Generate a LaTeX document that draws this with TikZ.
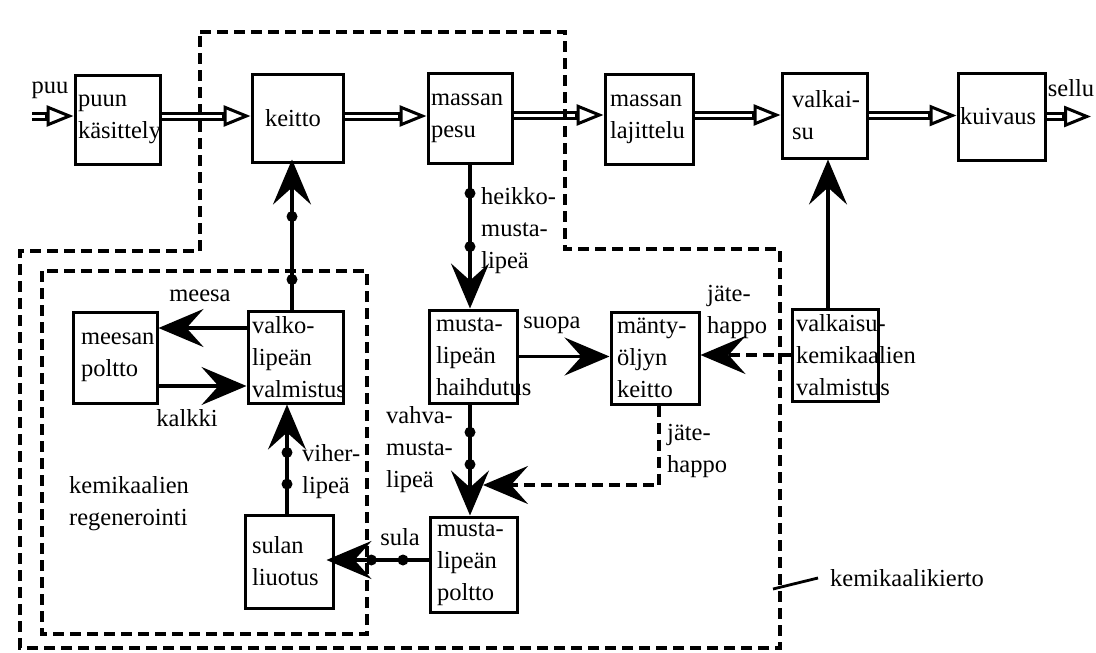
\documentclass[tikz,border=0pt]{standalone}
\usepackage{fontspec}
\setmainfont{Liberation Serif}
\usetikzlibrary{arrows.meta}
\newcommand\mhy[1]{\mbox{#1-}}
\begin{document}
\begin{tikzpicture}[x=1pt,y=-1pt,
  every node/.style={font=\fontsize{24.5}{32}\selectfont},
  box/.style={draw, line width=3pt, inner xsep=4pt, inner ysep=0pt, align=left, anchor=center},
  lbl/.style={inner sep=0pt, align=left},
  flow/.style={line width=3.4pt, -{Stealth[length=45pt,width=38pt,inset=17pt]}},
  dflow/.style={line width=3.4pt, dash pattern=on 11pt off 6pt, -{Stealth[length=45pt,width=38pt,inset=17pt]}},
  dot/.style={circle, fill, inner sep=0pt, minimum size=11pt},
  pulp/.style={line width=9pt, -{Triangle[open,length=27pt,width=21pt,line width=3pt]},
    postaction={draw=white, line width=3pt, -, shorten >=29pt}},
  region/.style={line width=3.4pt, dash pattern=on 11pt off 6pt}
]
\useasboundingbox (0,0) rectangle (1096,653);

% boxes
\node[box, minimum width=85pt, minimum height=89pt, text width=79pt, inner xsep=3pt] (puun) at (117.5,119.5) {puun\\käsittely};
\node[box, minimum width=91pt, minimum height=88pt, text width=65pt, inner xsep=13pt] (keitto) at (297.5,118) {keitto};
\node[box, minimum width=84pt, minimum height=90pt, text width=78pt, inner xsep=3pt] (pesu) at (470,118) {massan\\pesu};
\node[box, minimum width=88pt, minimum height=90pt, text width=78pt, inner xsep=5pt] (lajittelu) at (649,119) {massan\\lajittelu};
\node[box, minimum width=85pt, minimum height=85pt, text width=65pt, inner xsep=10pt] (valkaisu) at (824.5,115.5) {\mhy{valkai}\\su};
\node[box, minimum width=87pt, minimum height=87pt, text width=83pt, inner xsep=2pt] (kuivaus) at (1001.5,116.5) {kuivaus};
\node[box, minimum width=84pt, minimum height=91pt, text width=68pt, inner xsep=8pt] (meesan) at (115,357.5) {meesan\\poltto};
\node[box, minimum width=95pt, minimum height=92pt, text width=87pt] (valko) at (295.5,357) {\mhy{valko}\\lipeän\\valmistus};
\node[box, minimum width=88pt, minimum height=93pt, text width=74pt, inner xsep=7pt] (haihd) at (473,356.5) {\mhy{musta}\\lipeän\\haihdutus};
\node[box, minimum width=88pt, minimum height=92pt, text width=76pt, inner xsep=6pt] (manty) at (655,358) {\mhy{mänty}\\öljyn\\keitto};
\node[box, minimum width=86pt, minimum height=92pt, text width=78pt] (vkem) at (835,355) {\mhy{valkaisu}\\kemikaalien\\valmistus};
\node[box, minimum width=88pt, minimum height=93pt, text width=74pt, inner xsep=7pt] (sulan) at (289,561.5) {sulan\\liuotus};
\node[box, minimum width=87pt, minimum height=95pt, text width=73pt, inner xsep=7pt] (poltto) at (473.5,564.5) {\mhy{musta}\\lipeän\\poltto};

% labels
\node[lbl] (puu) at (50,90) {puu};
\node[lbl] (sellu) at (1071,88) {sellu};
\node[lbl, anchor=west] (heikko) at (481,231) {\mhy{heikko}\\\mhy{musta}\\lipeä};
\node[lbl] (meesa) at (200,296) {meesa};
\node[lbl] (kalkki) at (187,418) {kalkki};
\node[lbl, anchor=west] (viher) at (302,472) {\mhy{viher}\\lipeä};
\node[lbl] (suopa) at (552,325) {suopa};
\node[lbl, anchor=west] (jh1) at (707,312) {\mhy{jäte}\\happo};
\node[lbl, anchor=west] (jh2) at (667,451) {\mhy{jäte}\\happo};
\node[lbl, anchor=west] (vahva) at (386,450) {\mhy{vahva}\\\mhy{musta}\\lipeä};
\node[lbl] (sula) at (400,537) {sula};
\node[lbl, anchor=west] (regen) at (69,504) {kemikaalien\\regenerointi};
\node[lbl, anchor=west] (kierto) at (830,578) {kemikaalikierto};

% pulp line
\coordinate (puuin) at (32,116);
\coordinate (sellupt) at (1091,116.5);
\draw[pulp] (puuin) -- (puuin -| puun.west);
\draw[pulp] ([yshift=3.5pt]puun.east) -- ([yshift=3.5pt]puun.east -| keitto.west);
\draw[pulp] ([yshift=2pt]keitto.east) -- ([yshift=2pt]keitto.east -| pesu.west);
\draw[pulp] ([yshift=3pt]pesu.east) -- ([yshift=3pt]pesu.east -| lajittelu.west);
\draw[pulp] ([yshift=4pt]lajittelu.east) -- ([yshift=4pt]lajittelu.east -| valkaisu.west);
\draw[pulp] (valkaisu.east) -- (valkaisu.east -| kuivaus.west);
\draw[pulp] (kuivaus.east) -- (sellupt);

% liquor flows
\draw[flow] ([xshift=-3.5pt]valko.north) -- ([xshift=-3.5pt,yshift=4pt]valko.north |- keitto.south)
  node[dot, pos=0.2] {} node[dot, pos=0.62] {};
\draw[flow] (pesu.south) -- (pesu.south |- haihd.north)
  node[dot, pos=0.2] {} node[dot, pos=0.57] {};
\draw[flow] ([xshift=-3pt]haihd.south) -- ([xshift=-3pt]haihd.south |- poltto.north)
  node[dot, pos=0.25] {} node[dot, pos=0.54] {};
\draw[flow] ([xshift=-2pt]sulan.north) -- ([xshift=-2pt]sulan.north |- valko.south)
  node[dot, pos=0.27] {} node[dot, pos=0.56] {};
\draw[flow] ([yshift=4.5pt]poltto.west) -- ([yshift=4.5pt,xshift=-8pt]poltto.west -| sulan.east)
  node[dot, pos=0.25] {} node[dot, pos=0.56] {};
\draw[flow] ([yshift=29pt]valko.west) -- ([yshift=29pt]valko.west -| meesan.east);
\draw[flow] ([yshift=-28.5pt]meesan.east) -- ([yshift=-28.5pt]meesan.east -| valko.west);
\draw[flow] (haihd.east) -- (haihd.east -| manty.west);
\draw[flow] ([xshift=-7pt]vkem.north) -- ([xshift=-7pt]vkem.north |- valkaisu.south);
\draw[dflow] (vkem.west) -- (vkem.west -| manty.east);
\coordinate (jh) at (483,485);
\draw[dflow] ([xshift=4pt]manty.south) |- (jh);

% regions
\draw[region] (200,32) -- (565,32) -- (565,249) -- (780,249) -- (780,648) -- (20,648) -- (20,251) -- (200,251) -- cycle;
\draw[region] (42,271) rectangle (367,634);
\coordinate (kk1) at (773,589);
\draw[line width=2.8pt] (kk1) -- ([xshift=-12pt]kierto.west);
\end{tikzpicture}
\end{document}
